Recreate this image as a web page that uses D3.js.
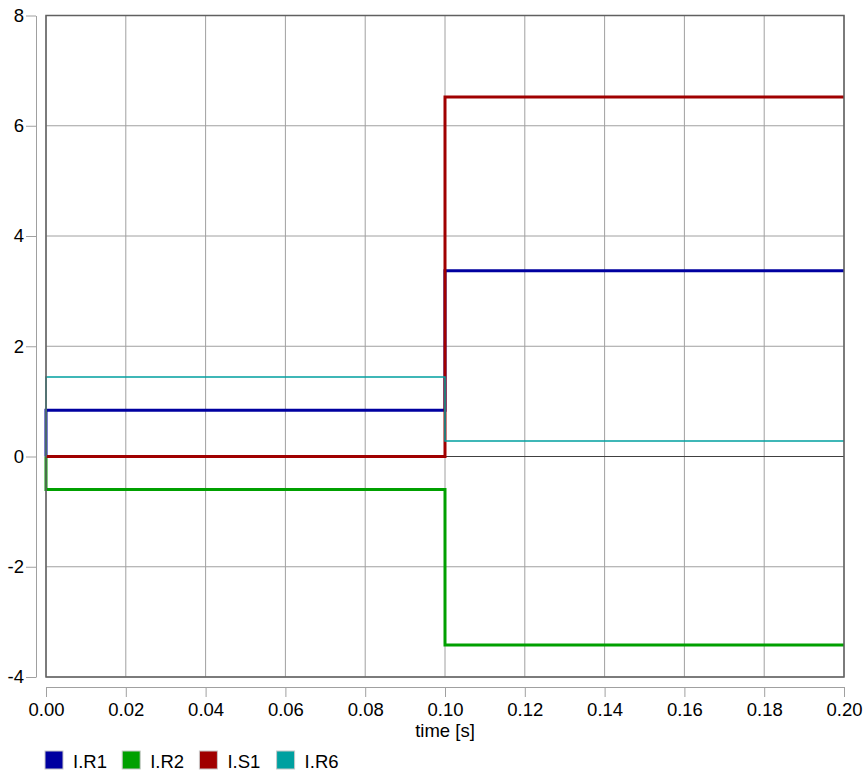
<!DOCTYPE html>
<meta charset="utf-8">
<script src="https://d3js.org/d3.v7.min.js"></script>
<style>
  body { margin: 0; background: #fff; }
  text { font-family: "Liberation Sans", Arial, sans-serif; }
</style>
<div id="chart"></div>
<script>

// step signals: values before and after the switch at t = 0.10 s
const names = ["I.R1", "I.R2", "I.S1", "I.R6"];
const colors = ["#0000a0", "#00a000", "#a00000", "#00a0a0"];
const widths = [3, 3, 3, 1.5];
const before = [0.84, -0.6, 0, 1.44];
const after = [3.37, -3.42, 6.52, 0.28];
const tSwitch = 0.10;
const tEnd = 0.20;
const xTicks = [0, 0.02, 0.04, 0.06, 0.08, 0.10, 0.12, 0.14, 0.16, 0.18, 0.20];
const yTicks = [-4, -2, 0, 2, 4, 6, 8];

const W = 868, H = 773;
const plotL = 46, plotR = 844, plotT = 15.5, plotB = 677;
const fontSize = 18.5;

const svg = d3.select("#chart").append("svg")
  .attr("width", W).attr("height", H);

const x = d3.scaleLinear().domain([0, 0.2]).range([plotL, plotR]);
const y = d3.scaleLinear().domain([-4, 8]).range([plotB, plotT]);

// grid
svg.append("g").selectAll("line").data(xTicks).join("line")
  .attr("x1", d => x(d)).attr("x2", d => x(d))
  .attr("y1", plotT).attr("y2", plotB)
  .attr("stroke", "#a0a0a0").attr("stroke-width", 1);
svg.append("g").selectAll("line").data(yTicks).join("line")
  .attr("x1", plotL).attr("x2", plotR)
  .attr("y1", d => y(d)).attr("y2", d => y(d))
  .attr("stroke", d => d === 0 ? "#404040" : "#a0a0a0")
  .attr("stroke-width", d => d === 0 ? 1.2 : 1);

// traces
const line = d3.line().x(d => x(d[0])).y(d => y(d[1]));
names.forEach((n, i) => {
  const pts = [[0, 0], [0, before[i]], [tSwitch, before[i]], [tSwitch, after[i]], [tEnd, after[i]]];
  svg.append("path")
    .attr("d", line(pts))
    .attr("fill", "none")
    .attr("stroke", colors[i])
    .attr("stroke-width", widths[i])
    .attr("stroke-linejoin", "miter");
});

// frame
svg.append("rect")
  .attr("x", plotL).attr("y", plotT)
  .attr("width", plotR - plotL).attr("height", plotB - plotT)
  .attr("fill", "none").attr("stroke", "#606060").attr("stroke-width", 1.5);

// y axis (detached)
const yAxis = svg.append("g").attr("transform", "translate(36,0)")
  .call(d3.axisLeft(y).tickValues(yTicks).tickSize(10).tickSizeOuter(0).tickPadding(2)
    .tickFormat(d => d < 0 ? "-" + Math.abs(d) : String(d)));
yAxis.select(".domain").attr("stroke", "#a0a0a0");
yAxis.selectAll(".tick line").attr("stroke", "#a0a0a0");
yAxis.selectAll("text").attr("font-size", fontSize).attr("fill", "#000")
  .style("font-family", "'Liberation Sans', Arial, sans-serif");

// x axis (detached)
const xAxis = svg.append("g").attr("transform", "translate(0,687)")
  .call(d3.axisBottom(x).tickValues(xTicks).tickSize(10).tickSizeOuter(0).tickPadding(6).tickFormat(d3.format(".2f")));
xAxis.select(".domain").attr("stroke", "#a0a0a0");
xAxis.selectAll(".tick line").attr("stroke", "#a0a0a0");
xAxis.selectAll("text").attr("font-size", fontSize).attr("fill", "#000")
  .style("font-family", "'Liberation Sans', Arial, sans-serif");

svg.append("text")
  .attr("x", x(0.1)).attr("y", 737)
  .attr("text-anchor", "middle")
  .attr("font-size", fontSize)
  .text("time [s]");

// legend
const lg = svg.append("g").selectAll("g").data(names).join("g")
  .attr("transform", (d, i) => `translate(${45 + i * 77.2},751)`);
lg.append("rect")
  .attr("width", 18).attr("height", 18)
  .attr("fill", (d, i) => colors[i])
  .attr("stroke", "#c8c8c8").attr("stroke-width", 1);
lg.append("text")
  .attr("x", 28).attr("y", 17)
  .attr("font-size", fontSize)
  .text(d => d);

</script>
